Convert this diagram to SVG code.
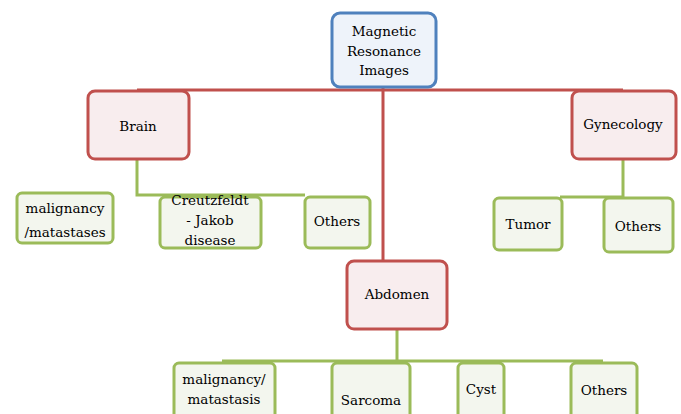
<svg xmlns="http://www.w3.org/2000/svg" width="681" height="414" viewBox="0 0 681 414">
<style>
.t{font-family:'DejaVu Serif','Liberation Serif',serif;font-size:13.5px;fill:#000;text-anchor:middle}
.root{fill:#EEF3FA;stroke:#4F81BD;stroke-width:3}
.cat{fill:#F8EDEE;stroke:#C0504D;stroke-width:3}
.leaf{fill:#F3F6EE;stroke:#9BBB59;stroke-width:3}
.rc{stroke:#C0504D;stroke-width:3;fill:none}
.gc{stroke:#9BBB59;stroke-width:3;fill:none}
</style>
<rect width="681" height="414" fill="#fff"/>
<g id="connectors">
<path class="rc" d="M137 90 H623 M383 88 V261"/>
<path class="gc" d="M137 160 V195 H305"/>
<path class="gc" d="M623 160 V197 H560"/>
<path class="gc" d="M397 330 V361 H222 M397 361 H603"/>
</g>
<g id="root"><rect class="root" x="332" y="13" width="104" height="74" rx="8"/>
<text class="t" x="384" y="36">Magnetic</text><text class="t" x="384" y="56">Resonance</text><text class="t" x="384" y="75">Images</text></g>
<g id="brain"><rect class="cat" x="88" y="91" width="101" height="68" rx="7"/><text class="t" x="138" y="131">Brain</text></g>
<g id="gynecology"><rect class="cat" x="572" y="91" width="104" height="68" rx="7"/><text class="t" x="623" y="129">Gynecology</text></g>
<g id="abdomen"><rect class="cat" x="347" y="261" width="100" height="68" rx="7"/><text class="t" x="397" y="299">Abdomen</text></g>
<g id="brain-malignancy"><rect class="leaf" x="17" y="193" width="96" height="50" rx="5"/><text class="t" x="65" y="213">malignancy</text><text class="t" x="65" y="237">/matastases</text></g>
<g id="cjd"><rect class="leaf" x="160" y="197" width="101" height="51" rx="5"/><text class="t" x="210" y="205">Creutzfeldt</text><text class="t" x="210" y="225">- Jakob</text><text class="t" x="210" y="245">disease</text></g>
<g id="brain-others"><rect class="leaf" x="305" y="197" width="65" height="51" rx="5"/><text class="t" x="337" y="226">Others</text></g>
<g id="tumor"><rect class="leaf" x="494" y="198" width="68" height="52" rx="5"/><text class="t" x="528" y="229">Tumor</text></g>
<g id="gyn-others"><rect class="leaf" x="604" y="198" width="69" height="54" rx="5"/><text class="t" x="638" y="231">Others</text></g>
<g id="abd-malignancy"><rect class="leaf" x="174" y="363" width="101" height="60" rx="5"/><text class="t" x="224" y="384">malignancy/</text><text class="t" x="224" y="404">matastasis</text></g>
<g id="sarcoma"><rect class="leaf" x="332" y="363" width="78" height="60" rx="5"/><text class="t" x="371" y="405">Sarcoma</text></g>
<g id="cyst"><rect class="leaf" x="458" y="363" width="46" height="60" rx="5"/><text class="t" x="481" y="394">Cyst</text></g>
<g id="abd-others"><rect class="leaf" x="571" y="363" width="66" height="60" rx="5"/><text class="t" x="604" y="395">Others</text></g>
</svg>
